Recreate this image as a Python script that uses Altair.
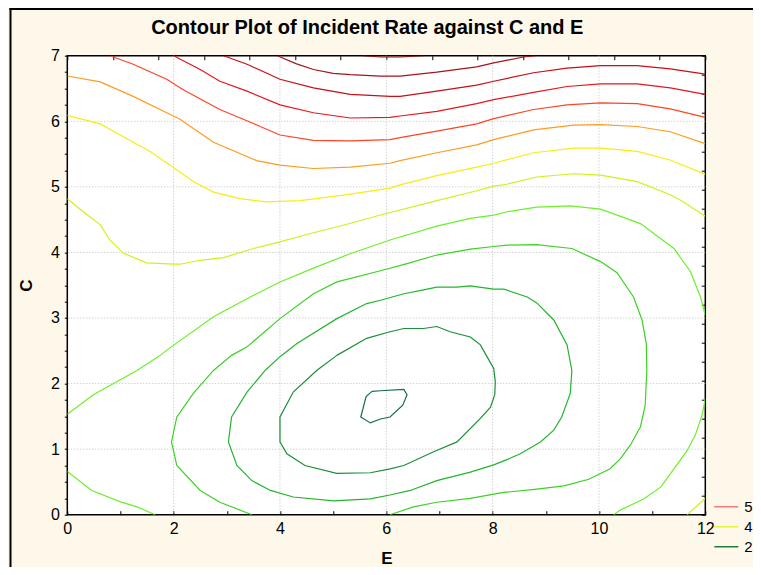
import altair as alt
import pandas as pd

# ---------------- data (E, C pairs per contour line) -------------
L13_E = [5.55, 5.9, 6.26, 6.7]
L13_C = [7.0, 6.98, 6.98, 7.0]

L12_E = [3.95, 4.3, 4.63, 5.0, 5.32, 5.89, 6.26, 6.95, 7.7, 8.02, 8.58, 8.8]
L12_C = [7.0, 6.88, 6.79, 6.73, 6.71, 6.69, 6.69, 6.75, 6.83, 6.89, 6.98, 7.0]

L11_E = [2.94, 3.38, 4.0, 4.63, 5.32, 6.07, 6.26, 6.95, 7.7, 8.02, 8.77, 9.4, 10.03, 10.72, 11.34, 12.0]
L11_C = [7.0, 6.87, 6.64, 6.51, 6.41, 6.38, 6.38, 6.46, 6.55, 6.61, 6.74, 6.81, 6.85, 6.85, 6.8, 6.72]

L10_E = [2.0, 2.5, 2.87, 3.38, 4.0, 4.63, 5.32, 6.07, 6.26, 6.95, 7.7, 8.02, 8.77, 9.4, 10.03, 10.72, 11.34, 12.0]
L10_C = [7.0, 6.79, 6.61, 6.46, 6.25, 6.13, 6.05, 6.06, 6.08, 6.15, 6.27, 6.33, 6.44, 6.53, 6.57, 6.57, 6.51, 6.41]

L9_E = [0.8, 1.24, 1.87, 2.18, 2.87, 3.31, 3.63, 4.0, 4.63, 5.32, 6.07, 6.26, 6.95, 7.7, 8.02, 8.77, 9.4, 10.03, 10.72, 11.34, 12.0]
L9_C = [7.0, 6.87, 6.64, 6.48, 6.18, 6.03, 5.92, 5.79, 5.71, 5.7, 5.72, 5.75, 5.85, 5.96, 6.04, 6.18, 6.25, 6.28, 6.27, 6.19, 6.06]

L8_E = [0.0, 0.62, 1.24, 1.87, 2.12, 2.75, 3.56, 4.0, 4.63, 5.32, 6.07, 6.26, 6.95, 7.7, 8.02, 8.77, 9.52, 10.03, 10.72, 11.34, 12.0]
L8_C = [6.69, 6.6, 6.38, 6.13, 6.03, 5.68, 5.4, 5.33, 5.28, 5.3, 5.36, 5.4, 5.52, 5.64, 5.72, 5.87, 5.94, 5.95, 5.92, 5.84, 5.66]

L7_E = [0.0, 0.62, 1.24, 1.56, 2.0, 2.37, 2.75, 3.25, 3.75, 4.38, 5.26, 6.07, 6.26, 6.95, 7.7, 8.02, 8.77, 9.52, 10.03, 10.72, 11.34, 12.0]
L7_C = [6.09, 5.96, 5.68, 5.54, 5.29, 5.08, 4.92, 4.82, 4.77, 4.79, 4.88, 4.98, 5.03, 5.17, 5.3, 5.36, 5.52, 5.59, 5.59, 5.54, 5.41, 5.19]

L6_E = [0.0, 0.3, 0.62, 0.8, 1.05, 1.49, 2.0, 2.12, 2.5, 2.94, 3.5, 3.94, 4.63, 5.26, 5.89, 6.95, 7.7, 8.02, 8.27, 8.83, 9.52, 10.03, 10.72, 11.34, 11.53, 12.0]
L6_C = [4.82, 4.62, 4.42, 4.19, 3.99, 3.84, 3.82, 3.82, 3.88, 3.92, 4.06, 4.15, 4.3, 4.43, 4.57, 4.79, 4.94, 5.01, 5.04, 5.15, 5.2, 5.18, 5.08, 4.88, 4.8, 4.55]
L6B_E = [11.66, 12.0]
L6B_C = [0.0, 0.25]

L5_E = [0.0, 0.49, 0.87, 1.31, 1.75, 1.87, 2.75, 3.44, 4.0, 4.63, 5.32, 6.07, 6.95, 7.58, 8.02, 8.27, 8.83, 9.46, 10.03, 10.78, 11.41, 11.72, 11.91, 12.0]
L5_C = [1.53, 1.83, 2.0, 2.2, 2.43, 2.51, 3.02, 3.32, 3.55, 3.76, 3.98, 4.19, 4.4, 4.52, 4.57, 4.62, 4.69, 4.71, 4.66, 4.44, 4.06, 3.71, 3.32, 3.04]
L5B_E = [0.0, 0.46, 0.99, 1.31, 1.65]
L5B_C = [0.66, 0.37, 0.2, 0.12, 0.0]
L5C_E = [12.0, 11.94, 11.81, 11.66, 11.41, 11.16, 10.84, 10.4, 10.28]
L5C_C = [1.77, 1.52, 1.21, 0.98, 0.7, 0.42, 0.24, 0.07, 0.0]

L4_E = [3.47, 2.87, 2.5, 2.06, 1.96, 2.06, 2.37, 2.75, 3.09, 3.38, 4.0, 4.63, 5.07, 5.89, 6.39, 6.95, 7.58, 8.02, 8.27,
        8.83, 9.49, 10.03, 10.34, 10.65, 10.81, 10.89, 10.9, 10.89, 10.87, 10.78, 10.59, 10.4, 10.21, 9.81, 9.34, 8.83,
        8.21, 7.58, 6.95, 6.51, 6.07]
L4_C = [0.0, 0.19, 0.37, 0.75, 1.11, 1.49, 1.85, 2.2, 2.43, 2.56, 2.99, 3.37, 3.55, 3.72, 3.83, 3.96, 4.05, 4.09, 4.11,
        4.12, 4.06, 3.86, 3.69, 3.32, 2.97, 2.61, 2.2, 2.03, 1.67, 1.34, 1.06, 0.85, 0.7, 0.54, 0.44, 0.39,
        0.34, 0.25, 0.19, 0.12, 0.0]

L3_E = [3.72, 3.38, 3.09, 3.03, 3.19, 3.47, 3.82, 4.25, 5.01, 5.7, 6.07, 6.45, 6.95, 7.58, 8.02, 8.27, 8.52, 8.9, 9.15,
        9.3, 9.46, 9.49, 9.4, 9.15, 8.83, 8.65, 8.21, 8.02, 7.58, 7.33, 6.95, 6.7, 6.33, 5.89, 5.63, 5.07, 4.32, 4.0, 3.72]
L3_C = [2.2, 1.87, 1.49, 1.11, 0.75, 0.52, 0.37, 0.27, 0.21, 0.24, 0.3, 0.37, 0.52, 0.65, 0.76, 0.84, 0.93, 1.11, 1.29,
        1.49, 1.85, 2.2, 2.59, 2.97, 3.23, 3.32, 3.44, 3.44, 3.49, 3.47, 3.47, 3.43, 3.37, 3.27, 3.22, 2.99, 2.61, 2.41, 2.2]

L2_E = [5.07, 4.69, 4.25, 4.0, 4.0, 4.13, 4.47, 5.07, 5.7, 6.07, 6.33, 6.89, 7.33, 7.77, 7.96, 8.04, 8.05, 8.02, 7.88,
        7.77, 7.58, 7.2, 6.95, 6.7, 6.33, 6.07, 5.63, 5.07]
L2_C = [2.43, 2.2, 1.87, 1.49, 1.11, 0.93, 0.75, 0.63, 0.64, 0.7, 0.75, 0.96, 1.11, 1.47, 1.64, 1.83, 2.03, 2.23, 2.43,
        2.59, 2.71, 2.79, 2.87, 2.84, 2.84, 2.79, 2.69, 2.43]

L1_E = [5.73, 5.89, 6.33, 6.39, 6.31, 6.07, 5.89, 5.7, 5.52, 5.62, 5.73]
L1_C = [1.88, 1.89, 1.91, 1.83, 1.67, 1.49, 1.46, 1.4, 1.49, 1.8, 1.88]

LINE_NAMES = ["L13", "L12", "L11", "L10", "L9", "L8", "L7", "L6", "L6B", "L5", "L5B", "L5C", "L4", "L3", "L2", "L1"]
LINE_COLORS = ["#8B1C1C", "#A3151B", "#C80E16", "#E8161A", "#FF4424", "#FF9B1E", "#F6EE12", "#D2F01A", "#D2F01A",
               "#6CF02A", "#6CF02A", "#6CF02A", "#3CD224", "#24B42E", "#1C8E3A", "#1A6B4C"]
LINE_E = [L13_E, L12_E, L11_E, L10_E, L9_E, L8_E, L7_E, L6_E, L6B_E, L5_E, L5B_E, L5C_E, L4_E, L3_E, L2_E, L1_E]
LINE_C = [L13_C, L12_C, L11_C, L10_C, L9_C, L8_C, L7_C, L6_C, L6B_C, L5_C, L5B_C, L5C_C, L4_C, L3_C, L2_C, L1_C]

E_GRID = [2, 4, 6, 8, 10]
C_GRID = [1, 2, 3, 4, 5, 6]
E_TICKS = [0, 1, 2, 3, 4, 5, 6, 7, 8, 9, 10, 11, 12]
C_TICKS = [i * 0.25 for i in range(29)]
TOP_TICKS = [i * 12 / 14 for i in range(15)]
RIGHT_TICKS = [i * 7 / 24 for i in range(25)]

LEG_LABELS = ["5", "4", "2"]
LEG_COLORS = ["#F27A7A", "#E3F43C", "#217A3E"]

TITLE = "Contour Plot of Incident Rate against C and E"
FONT = "Liberation Sans"

# ---------------- build table ----------------
rows = []
for name, es, cs, col in zip(LINE_NAMES, LINE_E, LINE_C, LINE_COLORS):
    for i, (e, c) in enumerate(zip(es, cs)):
        rows.append({"line": name, "E": e, "C": c, "ord": i, "col": col})
df = pd.DataFrame(rows)

W, H = 638, 459
xs = alt.Scale(domain=[0, 12], nice=False, zero=False)
ys = alt.Scale(domain=[0, 7], nice=False, zero=False)

grid_x = alt.Chart(pd.DataFrame({"E": E_GRID})).mark_rule(
    color="#BDBDBD", strokeDash=[1, 2], strokeWidth=1
).encode(x=alt.X("E:Q", scale=xs, axis=None))

grid_y = alt.Chart(pd.DataFrame({"C": C_GRID})).mark_rule(
    color="#BDBDBD", strokeDash=[1, 2], strokeWidth=1
).encode(y=alt.Y("C:Q", scale=ys, axis=None))

contours = alt.Chart(df).mark_line(strokeWidth=1.2, clip=True).encode(
    x=alt.X("E:Q", scale=xs, axis=alt.Axis(
        values=E_TICKS, labelExpr="datum.value % 2 === 0 ? format(datum.value, 'd') : ''",
        grid=False, domain=False, ticks=True, tickSize=4, offset=-4, tickColor="black",
        labelFontSize=16, labelColor="black", labelPadding=6, labelFlush=False, labelOverlap=False,
        title="E", titleFontSize=17, titleFontWeight="bold", titleColor="black", titlePadding=14)),
    y=alt.Y("C:Q", scale=ys, axis=alt.Axis(
        values=C_TICKS, labelExpr="datum.value % 1 === 0 ? format(datum.value, 'd') : ''",
        grid=False, domain=False, ticks=True, tickSize=3, tickColor="black",
        labelFontSize=16, labelColor="black", labelPadding=5, labelFlush=False, labelOverlap=False,
        title="C", titleFontSize=17, titleFontWeight="bold", titleColor="black", titlePadding=15)),
    detail="line:N",
    order="ord:Q",
    stroke=alt.Stroke("col:N", scale=None),
)

side_axes = alt.Chart(pd.DataFrame({"E": [0, 12], "C": [0, 7]})).mark_point(opacity=0).encode(
    x=alt.X("E:Q", scale=xs, axis=alt.Axis(
        orient="top", values=TOP_TICKS, labels=False, domain=False, grid=False,
        ticks=True, tickSize=4, offset=-4, tickColor="black", title=None)),
    y=alt.Y("C:Q", scale=ys, axis=alt.Axis(
        orient="right", values=RIGHT_TICKS, labels=False, domain=False, grid=False,
        ticks=True, tickSize=4, offset=-4, tickColor="black", title=None)),
)

legend_layer = alt.Chart(pd.DataFrame({"lev": LEG_LABELS})).mark_line(strokeWidth=1.5).encode(
    color=alt.Color("lev:N", scale=alt.Scale(domain=LEG_LABELS, range=LEG_COLORS),
                    legend=alt.Legend(orient="none", legendX=646, legendY=443, title=None,
                                      symbolType="stroke", symbolSize=576, symbolStrokeWidth=1.5,
                                      labelFontSize=15, labelColor="black", labelFont=FONT,
                                      labelOffset=5, clipHeight=16, rowPadding=4))
)

frame_left = alt.Chart(pd.DataFrame({"k": [0]})).mark_rule(color="black", strokeWidth=2).encode(
    x=alt.value(-56.8), y=alt.value(-48), y2=alt.value(H + 60))
frame_top = alt.Chart(pd.DataFrame({"k": [0]})).mark_rule(color="black", strokeWidth=2).encode(
    x=alt.value(-57.8), x2=alt.value(W + 60), y=alt.value(-46.7))

chart = alt.layer(
    grid_x, grid_y, contours, side_axes, legend_layer, frame_left, frame_top
).resolve_axis(x="independent", y="independent").properties(
    width=W, height=H,
    title=alt.TitleParams(TITLE, fontSize=20, fontWeight="bold", font=FONT, color="black",
                          anchor="middle", dx=-19, dy=40, offset=9),
    background="#FDF8EA",
    view=alt.ViewBackground(fill="white", stroke="black", strokeWidth=1.5),
    padding={"left": 59.3, "top": 47.7, "right": 47.7, "bottom": 52.3},
    autosize=alt.AutoSizeParams(type="none"),
).configure_view(stroke="black", strokeWidth=1.5, fill="white").configure_axis(
    labelFont=FONT, titleFont=FONT
)

chart.save("out.html", embed_options={"renderer": "svg", "actions": False})
